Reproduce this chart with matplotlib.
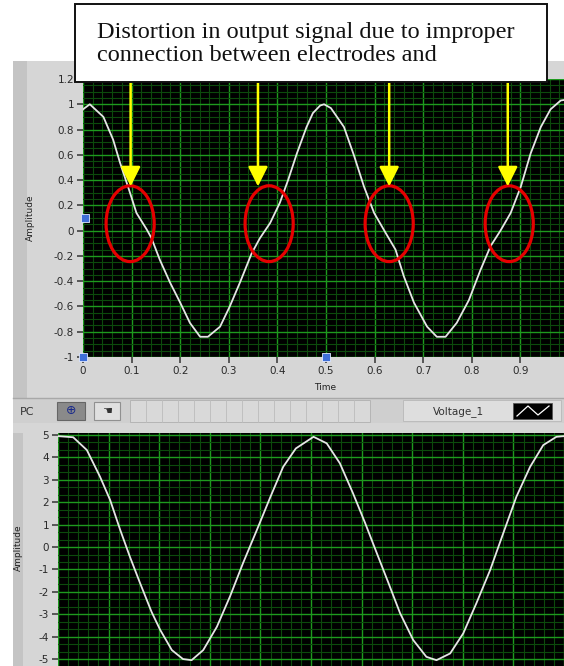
import matplotlib
matplotlib.use("Agg")
import matplotlib.pyplot as plt
from matplotlib.patches import Rectangle, Ellipse
from matplotlib.ticker import MultipleLocator

W, H = 564, 666

# top graph: distorted output signal
top_time = [0.0, 0.014, 0.042, 0.062, 0.076, 0.095, 0.110, 0.131, 0.141, 0.158,
            0.179, 0.200, 0.220, 0.241, 0.257, 0.282, 0.302, 0.323, 0.347, 0.364,
            0.385, 0.405, 0.422, 0.440, 0.460, 0.473, 0.488, 0.496, 0.510, 0.537,
            0.558, 0.578, 0.599, 0.623, 0.643, 0.660, 0.681, 0.708, 0.728, 0.746,
            0.769, 0.794, 0.818, 0.839, 0.859, 0.880, 0.901, 0.921, 0.942, 0.962,
            0.983, 1.0]
top_amp = [0.96, 1.00, 0.90, 0.72, 0.54, 0.32, 0.14, 0.01, -0.06, -0.23,
           -0.41, -0.57, -0.73, -0.84, -0.84, -0.76, -0.60, -0.41, -0.18, -0.06,
           0.06, 0.22, 0.40, 0.61, 0.82, 0.93, 0.99, 1.00, 0.97, 0.82,
           0.59, 0.35, 0.14, -0.02, -0.15, -0.36, -0.57, -0.76, -0.84, -0.84,
           -0.73, -0.55, -0.31, -0.12, 0.0, 0.14, 0.35, 0.61, 0.82, 0.96,
           1.03, 1.04]

# bottom graph: input sine (Voltage_1)
bot_time = [0.0, 0.03, 0.057, 0.083, 0.103, 0.123, 0.142, 0.162, 0.185, 0.202,
            0.225, 0.247, 0.264, 0.287, 0.314, 0.34, 0.366, 0.393, 0.42, 0.445,
            0.47, 0.505, 0.531, 0.557, 0.583, 0.607, 0.63, 0.653, 0.676, 0.702,
            0.728, 0.748, 0.775, 0.801, 0.827, 0.854, 0.88, 0.906, 0.933, 0.959,
            0.985, 1.0]
bot_amp = [4.95, 4.9, 4.33, 3.14, 2.1, 0.76, -0.43, -1.6, -2.9, -3.7,
           -4.6, -5.0, -5.05, -4.6, -3.56, -2.2, -0.7, 0.76, 2.25, 3.58,
           4.4, 4.92, 4.63, 3.74, 2.4, 1.07, -0.27, -1.6, -2.95, -4.15,
           -4.9, -5.05, -4.75, -3.85, -2.5, -1.03, 0.62, 2.25, 3.58, 4.55,
           4.92, 4.95]

top_xticks = [0, 0.1, 0.2, 0.3, 0.4, 0.5, 0.6, 0.7, 0.8, 0.9]
top_yticks = [-1, -0.8, -0.6, -0.4, -0.2, 0, 0.2, 0.4, 0.6, 0.8, 1, 1.2]
bot_yticks = [-5, -4, -3, -2, -1, 0, 1, 2, 3, 4, 5]

# distortion marks
mark_time = [0.097, 0.383, 0.63, 0.877]
arrow_time = [0.098, 0.36, 0.63, 0.874]

note = "Distortion in output signal due to improper\nconnection between electrodes and"
legend_name = "Voltage_1"


def rect(x0, y0, x1, y1):
    # pixel box -> figure fraction [left, bottom, width, height]
    return [x0 / W, 1 - y1 / H, (x1 - x0) / W, (y1 - y0) / H]


fig = plt.figure(figsize=(W / 100, H / 100), dpi=100)
fig.patch.set_facecolor("white")

# background furniture in pixel coordinates
bg = fig.add_axes([0, 0, 1, 1], zorder=0)
bg.set_xlim(0, W); bg.set_ylim(H, 0); bg.axis("off")
bg.add_patch(Rectangle((13, 61), W - 13, 337, fc="#d6d6d6", ec="none"))
bg.add_patch(Rectangle((13, 61), 14, 337, fc="#c4c4c4", ec="none"))
bg.add_patch(Rectangle((13, 398), W - 13, 25, fc="#cfcfcf", ec="none"))
bg.plot([13, W], [398, 398], color="#a8a8a8", lw=1)
bg.add_patch(Rectangle((13, 423), 45, H - 423, fc="#d6d6d6", ec="none"))
bg.add_patch(Rectangle((13, 423), 10, H - 423, fc="#c4c4c4", ec="none"))
bg.add_patch(Rectangle((13, 423), W - 13, 10, fc="#d6d6d6", ec="none"))
# toolbar bits
bg.text(20, 412, "PC", fontsize=8, color="#333333", va="center")
bg.add_patch(Rectangle((57, 402), 28, 18, fc="#8a8a8a", ec="#666666", lw=0.8))
bg.text(71, 411, "\u2295", fontsize=9, color="#1a2a8a", ha="center", va="center")
bg.add_patch(Rectangle((94, 402), 26, 18, fc="#e0e0e0", ec="#909090", lw=0.8))
bg.text(107, 411, "\u261a", fontsize=8, color="#333333", ha="center", va="center")
bg.add_patch(Rectangle((130, 400), 240, 22, fc="#d9d9d9", ec="#b0b0b0", lw=0.6))
for gx in range(146, 370, 16):
    bg.plot([gx, gx], [400, 422], color="#bcbcbc", lw=0.6)
bg.add_patch(Rectangle((403, 400), 158, 21, fc="#dedede", ec="#b8b8b8", lw=0.6))
bg.text(458, 412, legend_name, fontsize=7.5, color="#333333", ha="center", va="center")
bg.add_patch(Rectangle((513, 403), 39, 16, fc="black", ec="#555555", lw=0.6))
bg.plot([517, 528, 538, 549], [416, 406, 415, 406], color="white", lw=0.9)
bg.text(30, 218, "Amplitude", fontsize=6.5, rotation=90, ha="center", va="center",
        color="#222222")
bg.text(18, 548, "Amplitude", fontsize=6.5, rotation=90, ha="center", va="center",
        color="#222222")
bg.text(325, 387, "Time", fontsize=6.5, ha="center", va="center", color="#222222")


def style_graph(ax, xmaj, ymaj, xdiv, ydiv):
    ax.set_facecolor("black")
    ax.xaxis.set_major_locator(MultipleLocator(xmaj))
    ax.yaxis.set_major_locator(MultipleLocator(ymaj))
    ax.xaxis.set_minor_locator(MultipleLocator(xmaj / xdiv))
    ax.yaxis.set_minor_locator(MultipleLocator(ymaj / ydiv))
    ax.grid(which="minor", color="#0c4a0c", lw=0.8)
    ax.grid(which="major", color="#1e9a1e", lw=1.0)
    ax.set_axisbelow(True)
    for s in ax.spines.values():
        s.set_visible(False)
    ax.tick_params(which="minor", length=0)
    ax.tick_params(which="major", direction="out", length=4.5, width=1.1,
                   color="#333333", labelcolor="#2a2a2a", labelsize=7.5, pad=2)


# top graph
ax1 = fig.add_axes(rect(83, 79, 569, 357), zorder=1)
style_graph(ax1, 0.1, 0.2, 5, 4)
ax1.plot(top_time, top_amp, color="#e6e6e6", lw=1.3)
ax1.set_xlim(0, 1)
ax1.set_ylim(-1, 1.2)
ax1.set_xticks(top_xticks)
ax1.set_xticklabels([f"{v:g}" for v in top_xticks])
ax1.set_yticks(top_yticks)
ax1.set_yticklabels([f"{v:g}" for v in top_yticks])

for tc in mark_time:
    ax1.add_patch(Ellipse((tc, 0.055), 0.099, 0.60, fill=False, ec="#e60000",
                          lw=2.3, zorder=5))
for ta in arrow_time:
    ax1.annotate("", xy=(ta, 0.35), xytext=(ta, 1.2), annotation_clip=False,
                 arrowprops=dict(arrowstyle="-|>,head_width=0.5,head_length=1.0",
                                 color="#ffff00", lw=1.8, mutation_scale=12,
                                 shrinkA=0, shrinkB=0), zorder=6)

# blue scale markers
ax1.scatter([0, 0.5, 1.0, 0.005], [-1, -1, -1, 0.1], marker="s", s=28,
            color="#3f6fd8", edgecolor="#dfe8ff", lw=0.6, clip_on=False, zorder=7)

# bottom graph
ax2 = fig.add_axes(rect(58, 433, 564, 666), zorder=1)
style_graph(ax2, 0.1, 1, 5, 3)
ax2.plot(bot_time, bot_amp, color="#e6e6e6", lw=1.3)
ax2.set_xlim(0, 1)
ax2.set_ylim(-5.31, 5.09)
ax2.set_yticks(bot_yticks)
ax2.set_yticklabels([f"{v:g}" for v in bot_yticks])
ax2.tick_params(axis="x", which="major", length=0, labelbottom=False)

# annotation box on top
ov = fig.add_axes([0, 0, 1, 1], zorder=3)
ov.set_xlim(0, W); ov.set_ylim(H, 0); ov.axis("off")
ov.patch.set_alpha(0)
ov.add_patch(Rectangle((75, 4), 472, 78, fc="white", ec="#111111", lw=1.4))
ov.text(97, 44, note, fontsize=17.5, family="Liberation Serif", color="#111111",
        va="center", ha="left", linespacing=1.08)

fig.savefig("out.png", dpi=100)
